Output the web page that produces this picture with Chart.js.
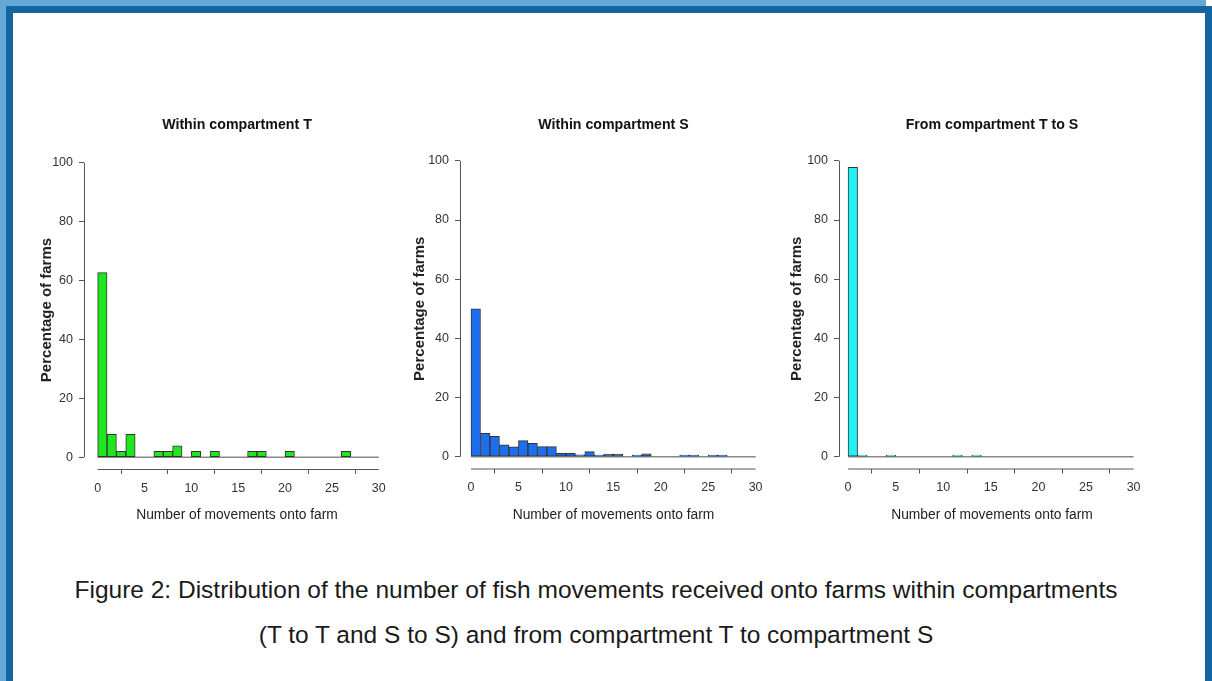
<!DOCTYPE html>
<html>
<head>
<meta charset="utf-8">
<script src="https://cdn.jsdelivr.net/npm/chart.js@4.4.1/dist/chart.umd.min.js"></script>
<style>
  html, body { margin: 0; padding: 0; width: 1212px; height: 681px; overflow: hidden; background: #fff; }
  #frame { position: absolute; left: 0; top: 0; width: 1206px; height: 720px; background: #67a9d6; }
  #inner { position: absolute; left: 6px; top: 6px; width: 1192px; height: 720px; border: 7px solid #1565a1; background: #fff; }
  canvas { position: absolute; }
  #caption {
    position: absolute; left: 0; top: 567px; width: 1192px;
    text-align: center; font: 24.5px "Liberation Sans", Arial, sans-serif;
    line-height: 45px; color: #1a1a1a;
  }
</style>
</head>
<body>
<div id="frame"></div>
<div id="inner"></div>
<canvas id="histT" style="left:20px; top:100px;" width="380" height="430"></canvas>
<canvas id="histS" style="left:395px; top:100px;" width="385" height="430"></canvas>
<canvas id="histTS" style="left:775px; top:100px;" width="380" height="430"></canvas>
<div id="caption">Figure 2: Distribution of the number of fish movements received onto farms within compartments<br>(T to T and S to S) and from compartment T to compartment S</div>

<script>
// bin midpoints (1-movement wide bins, 0-30)
const binMids = [0.5, 1.5, 2.5, 3.5, 4.5, 5.5, 6.5, 7.5, 8.5, 9.5,
                 10.5, 11.5, 12.5, 13.5, 14.5, 15.5, 16.5, 17.5, 18.5, 19.5,
                 20.5, 21.5, 22.5, 23.5, 24.5, 25.5, 26.5, 27.5, 28.5, 29.5];

// percentage of farms per bin
const withinT = [62.7, 7.8, 2, 7.8, 0, 0, 2, 2, 3.9, 0,
                 2, 0, 2, 0, 0, 0, 2, 2, 0, 0,
                 2, 0, 0, 0, 0, 0, 2, 0, 0, 0];
const withinS = [50, 7.9, 6.9, 4, 3.3, 5.4, 4.5, 3.4, 3.4, 1.1,
                 1.1, 0.6, 1.7, 0.5, 0.9, 0.9, 0, 0.5, 1, 0,
                 0, 0, 0.5, 0.5, 0, 0.5, 0.5, 0, 0, 0];
const fromTtoS = [97.8, 0.5, 0, 0, 0.5, 0, 0, 0, 0, 0,
                  0, 0.5, 0, 0.5, 0, 0, 0, 0, 0, 0,
                  0, 0, 0, 0, 0, 0, 0, 0, 0, 0];

const xTicks = [0, 5, 10, 15, 20, 25, 30];
const yTicks = [0, 20, 40, 60, 80, 100];

const fontFamily = '"Liberation Sans", Arial, Helvetica, sans-serif';
const axisColor = "#555";

// R style detached axes: line only from first to last tick
const rAxes = {
    id: "rAxes",
    afterDraw(chart) {
        const { ctx, chartArea, scales } = chart;
        const x = scales.x, y = scales.y;
        ctx.save();
        ctx.strokeStyle = axisColor;
        ctx.lineWidth = 1;
        ctx.beginPath();
        ctx.moveTo(chartArea.left + 0.5, y.getPixelForValue(yTicks[0]));
        ctx.lineTo(chartArea.left + 0.5, y.getPixelForValue(yTicks[yTicks.length - 1]));
        ctx.moveTo(x.getPixelForValue(xTicks[0]), chartArea.bottom + 0.5);
        ctx.lineTo(x.getPixelForValue(xTicks[xTicks.length - 1]), chartArea.bottom + 0.5);
        ctx.stroke();
        ctx.restore();
    },
};

function makeHist(id, values, color, title, g) {
    const ctx = document.getElementById(id).getContext("2d");
    return new Chart(ctx, {
        type: "bar",
        data: {
            datasets: [
                {
                    type: "bar",
                    data: binMids.map((m, i) => ({ x: m, y: values[i] })),
                    backgroundColor: color,
                    borderColor: "#333",
                    borderWidth: 1,
                    borderSkipped: false,
                    barPercentage: 1,
                    categoryPercentage: 1,
                    order: 1,
                },
                {
                    type: "line",
                    data: [{ x: xTicks[0], y: 0 }, { x: xTicks[xTicks.length - 1], y: 0 }],
                    borderColor: "#888",
                    borderWidth: 1.5,
                    pointRadius: 0,
                    order: 2,
                },
            ],
        },
        options: {
            responsive: false,
            animation: false,
            layout: { padding: { left: 0, right: g.padRight, top: 0, bottom: 0 } },
            plugins: {
                legend: { display: false },
                tooltip: { enabled: false },
                title: {
                    display: true,
                    text: title,
                    fullSize: false,
                    color: "#111",
                    font: { family: fontFamily, size: 14.2, weight: "bold" },
                    padding: { top: g.titleTop, bottom: g.titleBottom },
                },
            },
            scales: {
                x: {
                    type: "linear",
                    min: g.xMin,
                    max: 31.2,
                    offset: false,
                    afterBuildTicks: (s) => { s.ticks = xTicks.map((v) => ({ value: v })); },
                    afterFit: (s) => { s.height = g.xHeight; },
                    grid: { drawOnChartArea: false, drawTicks: true, tickLength: 5, color: axisColor },
                    border: { display: false },
                    ticks: { color: "#333", padding: 7, maxRotation: 0, font: { family: fontFamily, size: 12.5 } },
                    title: {
                        display: true,
                        text: "Number of movements onto farm",
                        color: "#222",
                        font: { family: fontFamily, size: 13.8 },
                        padding: { top: 0, bottom: 7 },
                    },
                },
                y: {
                    min: -4,
                    max: 104,
                    afterBuildTicks: (s) => { s.ticks = yTicks.map((v) => ({ value: v })); },
                    afterFit: (s) => { s.width = g.yWidth; },
                    grid: { drawOnChartArea: false, drawTicks: true, tickLength: 5, color: axisColor },
                    border: { display: false },
                    ticks: { color: "#333", padding: 6, font: { family: fontFamily, size: 12.5 } },
                    title: {
                        display: true,
                        text: "Percentage of farms",
                        color: "#222",
                        font: { family: fontFamily, size: 15, weight: "bold" },
                        padding: { top: g.yTitlePad, bottom: 0 },
                    },
                },
            },
        },
        plugins: [rAxes],
    });
}

makeHist("histT", withinT, "#1fe61f", "Within compartment T",
    { padRight: 10, titleTop: 16.2, titleBottom: 17.8, yWidth: 64, yTitlePad: 17.7, xHeight: 61, xMin: -1.46 });
makeHist("histS", withinS, "#1e6ff0", "Within compartment S",
    { padRight: 13, titleTop: 16.2, titleBottom: 15.8, yWidth: 65, yTitlePad: 16.0, xHeight: 61.5, xMin: -1.16 });
makeHist("histTS", fromTtoS, "#22f2f2", "From compartment T to S",
    { padRight: 10, titleTop: 16.2, titleBottom: 15.8, yWidth: 64, yTitlePad: 12.7, xHeight: 61.5, xMin: -0.95 });
</script>
</body>
</html>
